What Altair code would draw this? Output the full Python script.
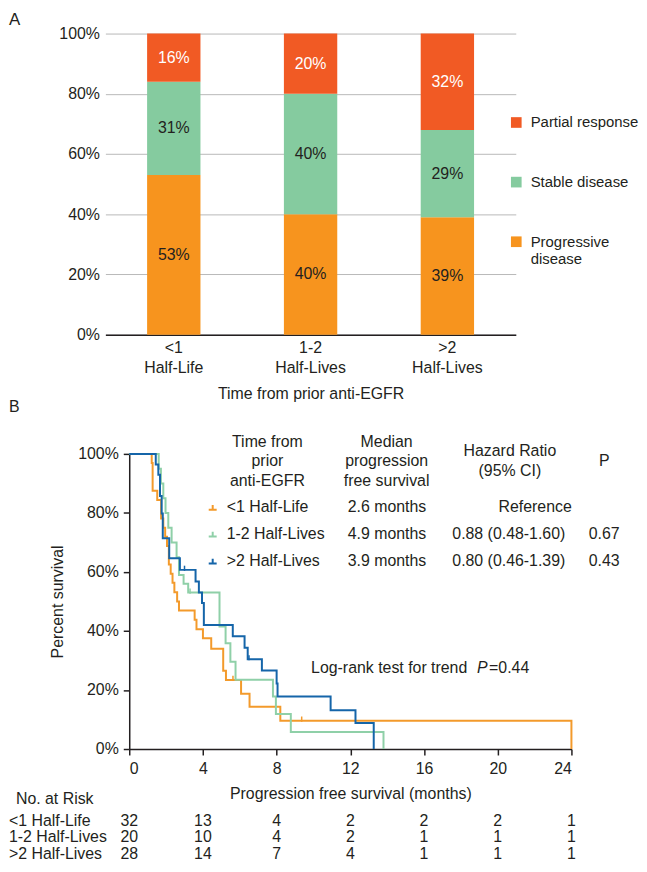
import altair as alt
import pandas as pd

FONT = "Liberation Sans"
INK = "#231f20"

# ---------------- Panel A data ----------------
resp_groups = ["<1 Half-Life", "1-2 Half-Lives", ">2 Half-Lives"]
resp_categories = ["Partial response", "Stable disease", "Progressive disease"]
pct_partial = [16, 20, 32]
pct_stable = [31, 40, 29]
pct_progressive = [53, 40, 39]
resp_colors = ["#f15a24", "#85cb9f", "#f7941e"]

# ---------------- Panel B data ----------------
km_groups = ["<1 Half-Life", "1-2 Half-Lives", ">2 Half-Lives"]
km_colors = ["#f39a2b", "#8fd0a8", "#1565a9"]

lt1_t = [0, 1.22, 1.27, 1.52, 1.73, 1.85, 1.95, 2.05, 2.15, 2.25, 2.35, 2.45, 2.6, 2.7,
         3.55, 3.65, 4.0, 4.45, 5.1, 5.25, 6.07, 6.53, 8.2, 24]
lt1_s = [100, 96.9, 87.5, 84.4, 78.1, 75.0, 71.9, 68.8, 62.5, 59.4, 56.3, 53.1, 50.0, 46.9,
         43.8, 40.6, 37.5, 34.0, 26.5, 23.4, 18.7, 14.3, 9.6, 0]
mid_t = [0, 1.6, 1.72, 1.85, 1.97, 2.12, 2.3, 2.57, 2.7, 2.95, 3.2, 4.9, 5.23, 5.49, 5.77,
         7.8, 7.96, 8.77, 13.8]
mid_s = [100, 95, 90, 85, 80, 75, 70, 65, 59, 56, 53, 41.5, 35.8, 29.6, 23.5,
         17.8, 11.9, 5.8, 0]
gt2_t = [0, 1.44, 1.58, 1.67, 1.76, 1.82, 2.17, 2.75, 3.6, 3.78, 3.95, 4.05, 5.62, 6.26,
         6.43, 7.2, 8.0, 8.05, 10.93, 12.28, 13.27]
gt2_s = [100, 96.4, 92.9, 85.7, 79.8, 71.4, 64.6, 60.7, 56.8, 53.0, 49.5, 42.0, 38.2, 34.3,
         30.4, 26.6, 22.2, 17.8, 13.1, 8.8, 0]

cens_lt1_t = [5.63, 9.36]
cens_lt1_s = [23.4, 9.6]
cens_mid_t = [3.3]
cens_mid_s = [53]
cens_gt2_t = [3.0, 6.5]
cens_gt2_s = [60.7, 30.4]

median_pfs = ["2.6 months", "4.9 months", "3.9 months"]
hazard_ratio = ["Reference", "0.88 (0.48-1.60)", "0.80 (0.46-1.39)"]
p_values = ["", "0.67", "0.43"]
header_cols = [["Time from", "prior", "anti-EGFR"],
               ["Median", "progression", "free survival"],
               ["Hazard Ratio", "(95% CI)"],
               ["P"]]
logrank_text = "Log-rank test for trend"
logrank_p = "0.44"

risk_times = [0, 4, 8, 12, 16, 20, 24]
risk_lt1 = [32, 13, 4, 2, 2, 2, 1]
risk_mid = [20, 10, 4, 2, 1, 1, 1]
risk_gt2 = [28, 14, 7, 4, 1, 1, 1]

# ---------------- layout constants (data units of panel B) ----------------
HDR_X = [7.5, 13.97, 20.66, 25.78]
HDR_Y0 = [104.1, 104.1, 100.8, 97.7]
HDR_DY = 6.6
ROW_Y0, ROW_DY = 81.9, 9.1
COL_SYM, COL_NAME, COL_MED, COL_HR, COL_P = 4.53, 5.29, 13.99, 20.6, 25.78
COL_REF = 22.03
LEFT_X = -6.53
RISK_Y0, RISK_DY = -24.3, 5.6
B_SHIFT = 24  # panel B plot starts 24px right of panel A plot

# ================= Panel A =================
rowsA = []
series = [pct_partial, pct_stable, pct_progressive]
for gi, g in enumerate(resp_groups):
    for ci, cat in enumerate(resp_categories):
        rowsA.append({"group": g, "category": cat, "value": series[ci][gi], "so": 2 - ci})
dfA = pd.DataFrame(rowsA)

baseA = alt.Chart(dfA).transform_stack(
    stack="value", groupby=["group"], as_=["v0", "v1"],
    sort=[alt.SortField("so", order="ascending")]
).transform_calculate(mid="(datum.v0 + datum.v1) / 2", label="datum.value + '%'")

axisAx = alt.Axis(title="Time from prior anti-EGFR", labelExpr="split(datum.label, ' ')",
                  labelAngle=0, ticks=False, tickSize=0, domainColor=INK, domainWidth=1.5,
                  labelPadding=5, labelLineHeight=20, titlePadding=10, labelBaseline="top")
axisAy = alt.Axis(values=[0, 20, 40, 60, 80, 100], labelExpr="datum.value + '%'",
                  title=None, domain=False, ticks=False, tickSize=0, grid=True,
                  gridColor="#b8b8b8", labelPadding=6)
scaleAx = alt.Scale(paddingInner=0.61, paddingOuter=0.305)
scaleAy = alt.Scale(domain=[0, 100], nice=False)

bars = baseA.mark_bar().encode(
    x=alt.X("group:N", sort=resp_groups, scale=scaleAx, axis=axisAx),
    y=alt.Y("v0:Q", scale=scaleAy, axis=axisAy), y2="v1:Q",
    color=alt.Color("category:N", scale=alt.Scale(domain=resp_categories, range=resp_colors),
                    legend=alt.Legend(title=None, orient="none", legendX=406, legendY=82,
                                      symbolType="square", symbolSize=115, symbolStrokeWidth=0,
                                      labelFontSize=15, rowPadding=44, labelOffset=7, padding=0,
                                      labelExpr="datum.label == 'Progressive disease' ? ['Progressive', 'disease'] : datum.label",
                                      labelLimit=300)),
    order=alt.Order("so:Q")
)
barText = baseA.mark_text(fontSize=16, baseline="middle").encode(
    x=alt.X("group:N", sort=resp_groups, scale=scaleAx, axis=axisAx),
    y=alt.Y("mid:Q", scale=scaleAy, axis=axisAy),
    text="label:N",
    color=alt.condition("datum.category == 'Partial response'", alt.value("#ffffff"), alt.value(INK))
)
letterA = alt.Chart(pd.DataFrame({"txt": ["A"]})).mark_text(
    align="left", baseline="top", fontSize=17).encode(
    x=alt.value(-97), y=alt.value(-22), text="txt:N")

panelA = alt.layer(bars, barText, letterA).properties(width=413, height=303)

# ================= Panel B =================
km_rows = []
for g, ts, ss in zip(km_groups, [lt1_t, mid_t, gt2_t], [lt1_s, mid_s, gt2_s]):
    for t, s in zip(ts, ss):
        km_rows.append({"group": g, "t": t, "s": s})
dfKM = pd.DataFrame(km_rows)

c_rows = []
for g, ts, ss in zip(km_groups, [cens_lt1_t, cens_mid_t, cens_gt2_t], [cens_lt1_s, cens_mid_s, cens_gt2_s]):
    for t, s in zip(ts, ss):
        c_rows.append({"group": g, "t": t, "s": s})
dfC = pd.DataFrame(c_rows)

xB = alt.X("t:Q", scale=alt.Scale(domain=[0, 24], nice=False, range=[B_SHIFT, B_SHIFT + 445]),
           axis=alt.Axis(values=risk_times, title="Progression free survival (months)",
                         grid=False, tickSize=6, tickColor=INK, tickWidth=1.5, domainColor=INK,
                         domainWidth=1.5, labelPadding=6, titlePadding=9))
yB = alt.Y("s:Q", scale=alt.Scale(domain=[0, 100], nice=False),
           axis=alt.Axis(values=[0, 20, 40, 60, 80, 100], labelExpr="datum.value + '%'",
                         title="Percent survival", grid=False, tickSize=6, tickColor=INK,
                         tickWidth=1.5, domainColor=INK, domainWidth=1.5, labelPadding=5,
                         titlePadding=12, offset=-B_SHIFT))
colB = alt.Color("group:N", scale=alt.Scale(domain=km_groups, range=km_colors), legend=None)

lines = alt.Chart(dfKM).mark_line(interpolate="step-after", strokeWidth=2).encode(
    x=xB, y=yB, color=colB)
cens = alt.Chart(dfC).mark_point(shape="M0,0.3L0,-1.2", size=49, filled=False, strokeWidth=1.5,
                                 opacity=1).encode(x=xB, y=yB, color=colB)

hdr_rows = []
for ci, lines_ in enumerate(header_cols):
    for li, txt in enumerate(lines_):
        hdr_rows.append({"txt": txt, "t": HDR_X[ci], "s": HDR_Y0[ci] - li * HDR_DY})
hdr = alt.Chart(pd.DataFrame(hdr_rows)).mark_text(fontSize=16, baseline="middle", align="center").encode(
    x=xB, y=yB, text="txt:N")

tbl_rows = []
for i, g in enumerate(km_groups):
    y = ROW_Y0 - i * ROW_DY
    tbl_rows.append({"txt": g, "t": COL_NAME, "s": y, "al": "left"})
    tbl_rows.append({"txt": median_pfs[i], "t": COL_MED, "s": y, "al": "center"})
    tbl_rows.append({"txt": hazard_ratio[i], "t": COL_REF if i == 0 else COL_HR, "s": y, "al": "center"})
    tbl_rows.append({"txt": p_values[i], "t": COL_P, "s": y, "al": "center"})
dfT = pd.DataFrame(tbl_rows)
tblL = alt.Chart(dfT).transform_filter("datum.al == 'left'").mark_text(
    fontSize=16, baseline="middle", align="left").encode(x=xB, y=yB, text="txt:N")
tblC = alt.Chart(dfT).transform_filter("datum.al == 'center'").mark_text(
    fontSize=16, baseline="middle", align="center").encode(x=xB, y=yB, text="txt:N")

sym = alt.Chart(pd.DataFrame({"group": km_groups, "t": [COL_SYM] * 3,
                              "s": [ROW_Y0 - i * ROW_DY for i in range(3)]})).mark_point(
    shape="M-1,0.6L1,0.6M0,0.6L0,-0.6", size=64, filled=False, strokeWidth=2, opacity=1).encode(
    x=xB, y=yB, color=colB)

lr1 = alt.Chart(pd.DataFrame({"txt": [logrank_text], "t": [9.87], "s": [27.6]})).mark_text(
    fontSize=16, baseline="middle", align="left").encode(x=xB, y=yB, text="txt:N")
lr2 = alt.Chart(pd.DataFrame({"txt": ["P"], "t": [18.88], "s": [27.6]})).mark_text(
    fontSize=16, baseline="middle", align="left", fontStyle="italic").encode(x=xB, y=yB, text="txt:N")
lr3 = alt.Chart(pd.DataFrame({"txt": ["=" + logrank_p], "t": [19.53], "s": [27.6]})).mark_text(
    fontSize=16, baseline="middle", align="left").encode(x=xB, y=yB, text="txt:N")

risk_rows = []
for i, (g, counts) in enumerate(zip(km_groups, [risk_lt1, risk_mid, risk_gt2])):
    y = RISK_Y0 - i * RISK_DY
    risk_rows.append({"txt": g, "t": LEFT_X, "s": y, "al": "left"})
    for tt, c in zip(risk_times, counts):
        risk_rows.append({"txt": str(c), "t": tt, "s": y, "al": "center"})
risk_rows.append({"txt": "No. at Risk", "t": -6.15, "s": -16.85, "al": "left"})
risk_rows.append({"txt": "B", "t": LEFT_X, "s": 115.9, "al": "left"})
dfR = pd.DataFrame(risk_rows)
riskL = alt.Chart(dfR).transform_filter("datum.al == 'left'").mark_text(
    fontSize=16, baseline="middle", align="left").encode(x=xB, y=yB, text="txt:N")
riskC = alt.Chart(dfR).transform_filter("datum.al == 'center'").mark_text(
    fontSize=16, baseline="middle", align="center").encode(x=xB, y=yB, text="txt:N")

panelB = alt.layer(lines, cens, hdr, tblL, tblC, sym, lr1, lr2, lr3, riskL, riskC).properties(
    width=B_SHIFT + 445, height=297)

chart = alt.vconcat(panelA, panelB, spacing=-3).resolve_scale(
    color="independent", x="independent", y="independent"
).properties(
    padding={"left": 0, "top": 0, "right": 0, "bottom": 0}
).configure(font=FONT).configure_view(stroke=None).configure_axis(
    labelColor=INK, titleColor=INK, labelFont=FONT, titleFont=FONT, titleFontWeight="normal",
    labelFontSize=16, titleFontSize=16
).configure_legend(labelColor=INK, labelFont=FONT).configure_text(font=FONT, color=INK)

chart.save("out.html", embed_options={"renderer": "svg", "actions": False})
